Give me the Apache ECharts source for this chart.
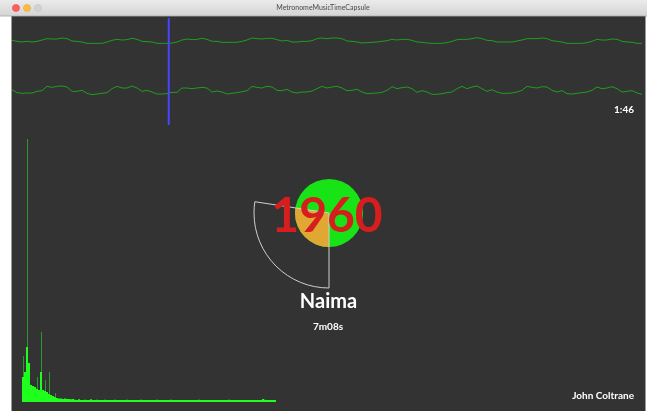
<!DOCTYPE html>
<html><head><meta charset="utf-8">
<script src="https://cdn.jsdelivr.net/npm/echarts@6/dist/echarts.min.js"></script>
<style>html,body{margin:0;padding:0;background:#fff}#c{width:647px;height:411px}</style>
</head><body><div id="c"></div>
<script>
const windowTitle = 'MetronomeMusicTimeCapsule';
const trackTitle = 'Naima';
const artistName = 'John Coltrane';
const yearLabel = '1960';
const durationLabel = '7m08s';
const elapsedLabel = '1:46';
const durationSec = 428;
const elapsedSec = 106;
const sweepFraction = 0.274;

const leftChannel = [2,-1,-3,-1,-3,-1,3,7,6,6,9,7,0,-1,-3,-7,-7,-7,-7,-3,2,5,3,4,8,5,-1,-2,-3,-7,-7,-7,
 -6,-3,3,6,4,5,8,5,-1,-1,-4,-4,-4,-4,-1,3,9,7,6,8,8,4,0,2,-3,-3,-1,-1,1,7,9,7,
 9,9,7,0,-1,-3,-6,-5,-4,-3,-1,1,5,3,5,5,2,-3,-4,-6,-7,-7,-7,-5,-1,4,5,5,7,10,7,2,
 1,-3,-3,-3,-3,0,3,7,7,7,9,7,1,-1,-3,-7,-7,-7,-7,-5,-1,5,3,3,6,5,-1,-3,-4,-7,-7];
const rightChannel = [1,-8,-10,-9,-9,-4,-2,11,8,11,12,9,-4,-4,-1,-10,-14,-12,-10,-8,4,11,6,6,12,6,-4,-1,-6,-12,-12,-11,
 -7,-7,6,6,4,6,8,6,-6,-3,-6,-12,-10,-8,-5,-2,11,8,6,11,9,-1,-2,2,-6,-9,-6,-6,-3,4,11,6,
 9,11,6,-2,-1,2,-6,-11,-10,-9,-7,-1,10,4,7,9,4,-7,-2,-6,-13,-13,-11,-8,-6,4,11,4,9,12,4,-4,
 1,-6,-10,-10,-9,-6,-1,11,8,6,10,9,-1,-6,-2,-11,-12,-10,-8,-6,-1,9,4,6,10,4,-6,-4,-2,-9,-13];

const spectrumLevels = [9.5,11.4,20.9,14.8,6.5,6.1,5.7,4.9,4.6,11.4,4.6,4.2,3.8,3.0,2.7,2.3,1.9,
 1.5,1.3,1.3,1.1,1.3,1.1,1.1,1.0,1.1,
 0.9,0.8,1.0,0.8,0.8,0.9,0.8,0.8,1.0,0.8,
 0.8,0.9,0.8,0.8,0.8,0.9,0.8,0.8,0.8,0.8,
 0.9,0.8,0.8,0.8,0.8,0.8,0.9,0.8,0.8,0.8,
 0.8,0.8,0.8,0.9,0.8,0.8,0.8,0.8,0.8,0.8,
 0.8,0.9,0.8,0.8,0.8,0.8,0.8,0.8,0.9,0.8,
 0.8,0.8,0.8,0.8,0.8,0.8,0.8,0.8,0.8,0.8,
 0.8,0.8,0.9,0.8,0.8,0.8,0.8,0.8,0.8,0.8,
 0.8,0.8,0.8,0.8,0.8,0.8,0.8,0.9,0.8,0.8,
 0.8,0.8,0.8,0.8,0.8,0.8,0.8,0.8,0.8,0.8,
 0.8,0.8,0.8,0.8,1.1,0.9,0.8,0.8,0.8,0.8,
 0.8];
const peakBins = [0, 2, 7, 9, 11, 13, 16];
const peakValues = [17.5, 100, 9.5, 26.6, 8.4, 11.4, 3.4];

const waveIdx = leftChannel.map((_, i) => i);
const specIdx = spectrumLevels.map((_, i) => i);
const peakSeries = spectrumLevels.map(() => '-');
peakBins.forEach((b, i) => { peakSeries[b] = peakValues[i]; });

const chart = echarts.init(document.getElementById('c'), null, {renderer: 'canvas'});
const FONT = 'Lato, "Open Sans", sans-serif';
const waveColor = '#1f9d1f';

chart.setOption({
  animation: false,
  backgroundColor: '#ffffff',
  grid: [
    {left: 12, top: 16, width: 630, height: 50},
    {left: 12, top: 65, width: 630, height: 50},
    {left: 12, top: 18, width: 633, height: 107},
    {left: 22, top: 139, width: 254, height: 263},
    {left: 22.5, top: 139, width: 254, height: 263}
  ],
  xAxis: [
    {gridIndex: 0, type: 'category', data: waveIdx, boundaryGap: false, show: false},
    {gridIndex: 1, type: 'category', data: waveIdx, boundaryGap: false, show: false},
    {gridIndex: 2, type: 'value', min: 0, max: durationSec, show: false},
    {gridIndex: 3, type: 'category', data: specIdx, show: false},
    {gridIndex: 4, type: 'category', data: specIdx, show: false}
  ],
  yAxis: [
    {gridIndex: 0, type: 'value', min: -75, max: 75, show: false},
    {gridIndex: 1, type: 'value', min: -75, max: 75, show: false},
    {gridIndex: 2, type: 'value', min: 0, max: 1, show: false},
    {gridIndex: 3, type: 'value', min: 0, max: 100, show: false},
    {gridIndex: 4, type: 'value', min: 0, max: 100, show: false}
  ],
  graphic: [
    {type: 'rect', z: -10, shape: {x: 0, y: 0, width: 647, height: 16},
      style: {fill: new echarts.graphic.LinearGradient(0, 0, 0, 1, [{offset: 0, color: '#ebebeb'}, {offset: 1, color: '#d4d4d4'}])}},
    {type: 'rect', z: -10, shape: {x: 0, y: 15.5, width: 647, height: 1}, style: {fill: '#b4b4b4'}},
    {type: 'circle', z: -9, shape: {cx: 16, cy: 8, r: 3.6}, style: {fill: '#fc605c', stroke: '#de4a44', lineWidth: 0.5}},
    {type: 'circle', z: -9, shape: {cx: 27, cy: 8, r: 3.6}, style: {fill: '#fdbc40', stroke: '#dea236', lineWidth: 0.5}},
    {type: 'circle', z: -9, shape: {cx: 38, cy: 8, r: 3.6}, style: {fill: '#d2d2d2', stroke: '#c0c0c0', lineWidth: 0.5}},
    {type: 'text', z: -9, x: 323, y: 8, style: {text: windowTitle, font: '7px ' + FONT, fill: '#4a4a4a', align: 'center', verticalAlign: 'middle'}},
    {type: 'rect', z: -10, shape: {x: 11, y: 16, width: 635, height: 395}, style: {fill: '#9a9a9a'}},
    {type: 'rect', z: -10, shape: {x: 12, y: 16.5, width: 633, height: 395}, style: {fill: '#333333'}},
    {type: 'text', z: 100, x: 634, y: 109.5, style: {text: elapsedLabel, font: 'bold 10px ' + FONT, fill: '#ffffff', align: 'right', verticalAlign: 'middle'}},
    {type: 'text', z: 100, x: 327, y: 217, style: {text: yearLabel, font: 'bold 48px ' + FONT, fill: '#d61e1e', align: 'center', verticalAlign: 'middle'}},
    {type: 'text', z: 100, x: 328.5, y: 301.5, style: {text: trackTitle, font: 'bold 20px ' + FONT, fill: '#ffffff', align: 'center', verticalAlign: 'middle'}},
    {type: 'text', z: 100, x: 328, y: 326.5, style: {text: durationLabel, font: 'bold 10px ' + FONT, fill: '#ffffff', align: 'center', verticalAlign: 'middle'}},
    {type: 'text', z: 100, x: 634, y: 395.5, style: {text: artistName, font: 'bold 10px ' + FONT, fill: '#ffffff', align: 'right', verticalAlign: 'middle'}}
  ],
  series: [
    {type: 'line', xAxisIndex: 0, yAxisIndex: 0, data: leftChannel, symbol: 'none', silent: true,
      lineStyle: {color: waveColor, width: 1}},
    {type: 'line', xAxisIndex: 1, yAxisIndex: 1, data: rightChannel, symbol: 'none', silent: true,
      lineStyle: {color: waveColor, width: 1}},
    {type: 'line', xAxisIndex: 2, yAxisIndex: 2, data: [[elapsedSec, 0], [elapsedSec, 1]], symbol: 'none', silent: true,
      lineStyle: {color: '#4646ff', width: 2}},
    {type: 'bar', xAxisIndex: 4, yAxisIndex: 4, data: peakSeries, barWidth: 1, silent: true,
      itemStyle: {color: '#2f962f'}, z: 2},
    {type: 'bar', xAxisIndex: 3, yAxisIndex: 3, data: spectrumLevels, barWidth: '100%', barCategoryGap: '0%', silent: true,
      itemStyle: {color: '#1eff1e'}, z: 3},
    {type: 'pie', center: [329, 213], radius: [0, 34], silent: true, z: 2, label: {show: false}, labelLine: {show: false},
      data: [{value: 1, itemStyle: {color: '#17e317'}}]},
    {type: 'pie', center: [329, 213], radius: [0, 34], startAngle: 270, clockwise: true, silent: true, z: 3,
      label: {show: false}, labelLine: {show: false},
      data: [{value: sweepFraction, itemStyle: {color: '#e0a832'}}, {value: 1 - sweepFraction, itemStyle: {color: 'rgba(0,0,0,0)'}}]},
    {type: 'pie', center: [329, 213], radius: [0, 75], startAngle: 270, clockwise: true, silent: true, z: 4,
      label: {show: false}, labelLine: {show: false},
      data: [{value: sweepFraction, itemStyle: {color: 'rgba(0,0,0,0)', borderColor: '#cfcfcf', borderWidth: 1}},
             {value: 1 - sweepFraction, itemStyle: {color: 'rgba(0,0,0,0)', borderWidth: 0}}]}
  ]
});
</script>
</body></html>
